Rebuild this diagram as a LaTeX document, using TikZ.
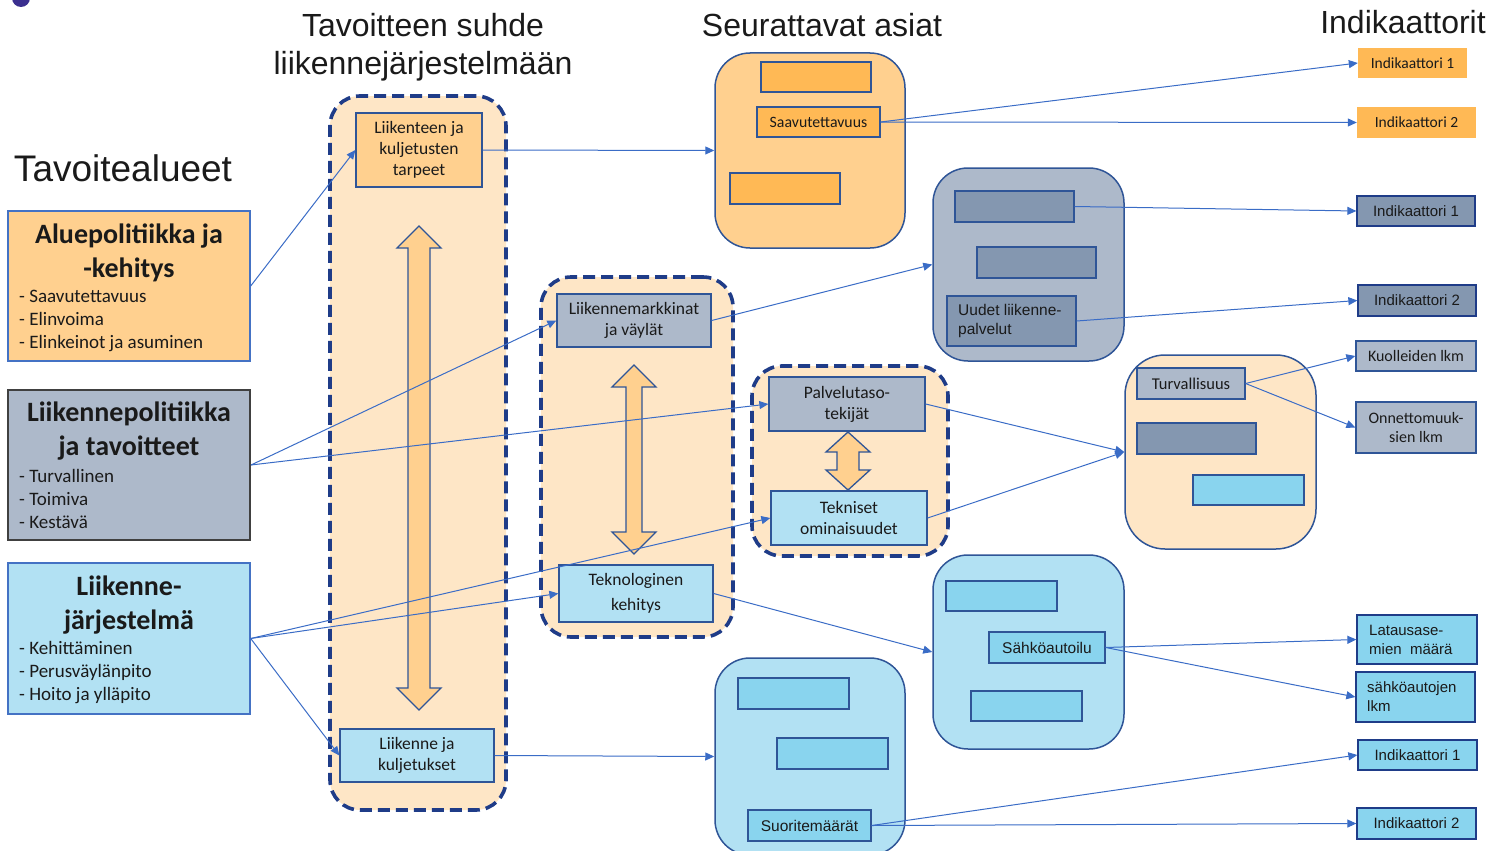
\documentclass[tikz,border=0pt]{standalone}
\usepackage{fontspec}
\setmainfont{Carlito}
\newfontfamily\arial{Liberation Sans}
\usetikzlibrary{arrows.meta}
\definecolor{lorange}{HTML}{FFD08F}
\definecolor{dorange}{HTML}{FFB955}
\definecolor{peach}{HTML}{FEE6C6}
\definecolor{gblue}{HTML}{ADB9CA}
\definecolor{dgblue}{HTML}{8497B0}
\definecolor{lblue}{HTML}{B2E1F3}
\definecolor{sblue}{HTML}{89D4EE}
\definecolor{bdr}{HTML}{2F5597}
\definecolor{lbdr}{HTML}{4472C4}
\definecolor{navy}{HTML}{1F3C88}
\definecolor{conncol}{HTML}{3A6CC6}
\definecolor{txt}{HTML}{1A1A1A}
\definecolor{dotcol}{HTML}{3B2F8F}
\begin{document}
\begin{tikzpicture}[x=1pt,y=-1pt,
  every node/.style={text=txt},
  box/.style={draw=bdr, line width=1.3pt, inner sep=0pt, align=center, font=\fontsize{17.5}{21}\selectfont},
  bar/.style={draw=bdr, line width=1.3pt, inner sep=0pt},
  cont/.style={draw=bdr, line width=1.5pt, inner sep=0pt, rounded corners=35pt},
  dcont/.style={draw=navy, line width=3.6pt, dash pattern=on 12pt off 6pt, inner sep=0pt, rounded corners=30pt, fill=peach},
  leftbox/.style={draw=lbdr, line width=1.4pt, inner sep=0pt, minimum width=242pt},
  ltitle/.style={align=center, font=\fontsize{28}{34}\selectfont\bfseries},
  lbul/.style={align=left, anchor=west, font=\fontsize{19}{23}\selectfont, inner sep=0pt},
  ttl/.style={font=\arial\fontsize{32}{38}\selectfont, align=center},
  ind/.style={inner sep=0pt, font=\fontsize{15.5}{19}\selectfont, align=center},
  aind/.style={draw=navy, line width=1.3pt, inner sep=0pt, font=\arial\fontsize{15}{20}\selectfont},
  conn/.style={draw=conncol, line width=1pt, -{Triangle[length=9pt,width=8pt]}},
  bigarrow/.style={draw=bdr, line width=1.3pt, fill=lorange, line join=miter}
]
\useasboundingbox (0,0) rectangle (1491,851);

% small dot top-left
\fill[dotcol] (21,-2) circle (9);

% Titles
\node[ttl, font=\arial\fontsize{37}{40}\selectfont] (t1) at (123,168) {Tavoitealueet};
\node[ttl] (t2) at (423,47) {Tavoitteen suhde\\liikennejärjestelmään};
\node[ttl] (t3) at (822,25) {Seurattavat asiat};
\node[ttl] (t4) at (1403,22) {Indikaattorit};

% Left boxes
\node[leftbox, fill=lorange, minimum height=150pt] (alue) at (129,286) {};
\node[ltitle] (aluet) at (129,253) {Aluepolitiikka ja\\-kehitys};
\node[lbul] (alueb) at (19,321) {- Saavutettavuus\\- Elinvoima\\- Elinkeinot ja asuminen};

\node[leftbox, draw=black!75, line width=2pt, fill=gblue, minimum height=150pt] (lpol) at (129,465) {};
\node[ltitle] (lpolt) at (129,431) {Liikennepolitiikka\\ja tavoitteet};
\node[lbul] (lpolb) at (19,499) {- Turvallinen\\- Toimiva\\- Kestävä};

\node[leftbox, fill=lblue, minimum height=151pt] (ljar) at (129,638.5) {};
\node[ltitle] (ljart) at (129,605) {Liikenne-\\järjestelmä};
\node[lbul] (ljarb) at (19,673) {- Kehittäminen\\- Perusväylänpito\\- Hoito ja ylläpito};

% Dashed containers
\node[dcont, minimum width=176pt, minimum height=714pt] (c1) at (418,453) {};
\node[dcont, minimum width=192pt, minimum height=360pt] (c2) at (637,457) {};
\node[dcont, minimum width=196pt, minimum height=190pt] (c3) at (850,461) {};

% Double arrows
\path[bigarrow] (419,226) -- (441,248) -- (430,248) -- (430,688) -- (441,688) -- (419,710)
  -- (397,688) -- (408,688) -- (408,248) -- (397,248) -- cycle;
\path[bigarrow] (634,365) -- (656,387) -- (642,387) -- (642,532) -- (656,532) -- (634,554)
  -- (612,532) -- (626,532) -- (626,387) -- (612,387) -- cycle;
\path[bigarrow] (848,432) -- (870,452) -- (859,452) -- (859,470) -- (870,470) -- (848,490)
  -- (826,470) -- (837,470) -- (837,452) -- (826,452) -- cycle;

% Inner boxes
\node[box, fill=lorange, minimum width=126pt, minimum height=74pt] (tarp) at (419,150) {Liikenteen ja\\kuljetusten\\tarpeet};
\node[box, fill=lblue, minimum width=154pt, minimum height=53pt] (lkj) at (417,755.5) {Liikenne ja\\kuljetukset};
\node[box, fill=gblue, minimum width=154pt, minimum height=53pt] (lmv) at (634,320.5) {Liikennemarkkinat\\ja väylät};
\node[box, fill=lblue, minimum width=154pt, minimum height=57pt, font=\fontsize{17.5}{25}\selectfont] (tek) at (636,593.5) {Teknologinen\\kehitys};
\node[box, fill=gblue, minimum width=156pt, minimum height=54pt] (pal) at (847,404) {Palvelutaso-\\tekijät};
\node[box, fill=lblue, minimum width=156pt, minimum height=54pt] (tekn) at (849,518) {Tekniset\\ominaisuudet};

% Solid containers
\node[cont, fill=lorange, minimum width=190pt, minimum height=195pt] (co) at (810,150.5) {};
\node[bar, fill=dorange, minimum width=110pt, minimum height=30pt] (co1) at (816,77) {};
\node[box, fill=dorange, minimum width=123pt, minimum height=30pt, font=\fontsize{15.8}{19}\selectfont] (sav) at (818.5,122) {Saavutettavuus};
\node[bar, fill=dorange, minimum width=110pt, minimum height=31pt] (co3) at (785,188.5) {};

\node[cont, fill=gblue, minimum width=191pt, minimum height=193pt] (cg) at (1028.5,264.5) {};
\node[bar, fill=dgblue, minimum width=119pt, minimum height=31pt] (cg1) at (1014.5,206.5) {};
\node[bar, fill=dgblue, minimum width=119pt, minimum height=31pt] (cg2) at (1036.5,262.5) {};
\node[bar, fill=dgblue, minimum width=129pt, minimum height=50pt] (uud) at (1011.5,321) {};
\node[anchor=west, align=left, inner sep=0pt, font=\arial\fontsize{15.5}{19}\selectfont] (uudt) at (958,321) {Uudet liikenne-\\palvelut};

\node[cont, rounded corners=40pt, fill=peach, minimum width=191pt, minimum height=194pt] (ct) at (1220.5,452) {};
\node[box, fill=gblue, minimum width=108pt, minimum height=31pt, font=\fontsize{16.5}{20}\selectfont] (turv) at (1191,383.5) {Turvallisuus};
\node[bar, fill=dgblue, minimum width=119pt, minimum height=31pt] (ct2) at (1196.5,438.5) {};
\node[bar, fill=sblue, minimum width=111pt, minimum height=30pt] (ct3) at (1248.5,490) {};

\node[cont, fill=lblue, minimum width=191pt, minimum height=194pt] (cs) at (1028.5,652) {};
\node[bar, fill=sblue, minimum width=111pt, minimum height=30pt] (cs1) at (1001.5,596) {};
\node[box, fill=sblue, minimum width=116pt, minimum height=31pt, font=\arial\fontsize{15.5}{19}\selectfont] (sahk) at (1047,647.5) {Sähköautoilu};
\node[bar, fill=sblue, minimum width=111pt, minimum height=30pt] (cs3) at (1026.5,706) {};

\node[cont, fill=lblue, minimum width=190pt, minimum height=197pt] (cb) at (810,756.5) {};
\node[bar, fill=sblue, minimum width=111pt, minimum height=31pt] (cb1) at (793.5,693.5) {};
\node[bar, fill=sblue, minimum width=111pt, minimum height=31pt] (cb2) at (832.5,753.5) {};
\node[box, fill=sblue, minimum width=123pt, minimum height=31pt, font=\arial\fontsize{15.5}{19}\selectfont] (suor) at (809.5,825.5) {Suoritemäärät};

% Indicators
\node[ind, fill=dorange, minimum width=109pt, minimum height=30pt] (oi1) at (1412.5,63) {Indikaattori 1};
\node[ind, fill=dorange, minimum width=119pt, minimum height=31pt] (oi2) at (1416.5,122.5) {Indikaattori 2};
\node[aind, fill=dgblue, minimum width=118pt, minimum height=30pt] (gi1) at (1416,211) {Indikaattori 1};
\node[aind, fill=dgblue, minimum width=118pt, minimum height=31pt] (gi2) at (1417,300.5) {Indikaattori 2};
\node[ind, draw=bdr, line width=1.3pt, fill=gblue, minimum width=120pt, minimum height=30pt, font=\fontsize{16}{19}\selectfont] (kuo) at (1416,356) {Kuolleiden lkm};
\node[ind, draw=bdr, line width=1.3pt, fill=gblue, minimum width=120pt, minimum height=51pt, font=\fontsize{16}{19}\selectfont] (onn) at (1416,427.5) {Onnettomuuk-\\sien lkm};
\node[aind, fill=sblue, minimum width=120pt, minimum height=49pt] (lat) at (1417,639.5) {};
\node[anchor=west, align=left, inner sep=0pt, font=\arial\fontsize{15}{19}\selectfont] (latt) at (1369,639.5) {Latausase-\\mien\ \ määrä};
\node[aind, fill=sblue, minimum width=119pt, minimum height=50pt] (sah) at (1415.5,697) {};
\node[anchor=west, align=left, inner sep=0pt, font=\arial\fontsize{15}{19}\selectfont] (saht) at (1367,697) {sähköautojen\\lkm};
\node[aind, fill=sblue, minimum width=119pt, minimum height=30pt] (bi1) at (1417.5,755) {Indikaattori 1};
\node[aind, fill=sblue, minimum width=119pt, minimum height=31pt] (bi2) at (1416.5,823.5) {Indikaattori 2};

% Connectors
\draw[conn] (alue.east) -- (tarp.west);
\draw[conn] (lpol.east) -- (lmv.west);
\draw[conn] (lpol.east) -- (pal.west);
\draw[conn] (ljar.east) -- (lkj.west);
\draw[conn] (ljar.east) -- (tek.west);
\draw[conn] (ljar.east) -- (tekn.west);
\draw[conn] (tarp.east) -- (co.west);
\draw[conn] (lmv.east) -- (cg.west);
\draw[conn] (pal.east) -- (ct.west);
\draw[conn] (tekn.east) -- (ct.west);
\draw[conn] (tek.east) -- (cs.west);
\draw[conn] (lkj.east) -- (cb.west);
\draw[conn] (sav.east) -- (oi1.west);
\draw[conn] (sav.east) -- (oi2.west);
\draw[conn] (cg1.east) -- (gi1.west);
\draw[conn] (uud.east) -- (gi2.west);
\draw[conn] (turv.east) -- (kuo.west);
\draw[conn] (turv.east) -- (onn.west);
\draw[conn] (sahk.east) -- (lat.west);
\draw[conn] (sahk.east) -- (sah.west);
\draw[conn] (suor.east) -- (bi1.west);
\draw[conn] (suor.east) -- (bi2.west);
\end{tikzpicture}
\end{document}
